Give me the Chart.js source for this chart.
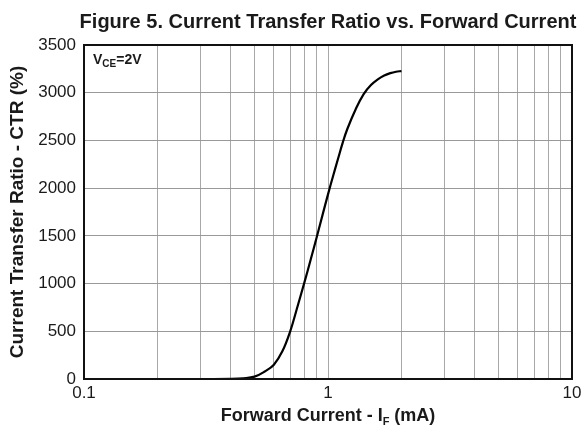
<!DOCTYPE html>
<html>
<head>
<meta charset="utf-8">
<script src="https://cdn.jsdelivr.net/npm/chart.js@4/dist/chart.umd.min.js"></script>
<style>
  html, body { margin: 0; padding: 0; background: #ffffff; }
  #wrap { width: 586px; height: 432px; }
</style>
</head>
<body>
<div id="wrap"><canvas id="ctrChart"></canvas></div>
<script>
// Curve: forward current (mA) vs CTR (%)
const forwardCurrent = [0.18, 0.3, 0.4, 0.45, 0.5, 0.55, 0.6, 0.65, 0.7, 0.75, 0.8, 0.85, 0.9, 0.95, 1.0,
                        1.05, 1.1, 1.15, 1.2, 1.3, 1.4, 1.5, 1.6, 1.7, 1.8, 1.9, 2.0];
const ctrValues = [0, 0, 2, 8, 25, 78, 150, 290, 500, 760, 1010, 1255, 1490, 1720, 1935,
                   2130, 2310, 2480, 2620, 2830, 2985, 3080, 3140, 3180, 3205, 3220, 3227];

// Axis ticks
const xGridValues = [0.1, 0.2, 0.3, 0.4, 0.5, 0.6, 0.7, 0.8, 0.9, 1, 2, 3, 4, 5, 6, 7, 8, 9, 10];
const xTickLabels = { 0.1: '0.1', 1: '1', 10: '10' };
const yTicks = [0, 500, 1000, 1500, 2000, 2500, 3000, 3500];

const chartTitle = 'Figure 5. Current Transfer Ratio vs. Forward Current';
const yTitle = 'Current Transfer Ratio - CTR (%)';

const FONT = '"Liberation Sans", Arial, Helvetica, sans-serif';
const INK = '#1a1a1a';

// Draws the title, the frame and the labels that need subscripts
const textPlugin = {
    id: 'figureText',
    afterDraw(chart) {
        const ctx = chart.ctx;
        const area = chart.chartArea;
        ctx.save();

        // frame round the plot
        ctx.strokeStyle = '#111';
        ctx.lineWidth = 2;
        ctx.strokeRect(area.left, area.top, area.right - area.left, area.bottom - area.top);

        ctx.fillStyle = INK;
        ctx.textBaseline = 'alphabetic';

        // figure title
        ctx.font = 'bold 20px ' + FONT;
        ctx.textAlign = 'center';
        ctx.fillText(chartTitle, 328, 28);

        // text with a subscript, left to right
        const drawParts = (parts, x, y) => {
            let cx = x;
            parts.forEach(p => {
                ctx.font = 'bold ' + p.size + 'px ' + FONT;
                ctx.fillText(p.text, cx, y + (p.dy || 0));
                cx += ctx.measureText(p.text).width;
            });
        };
        const widthOf = (parts) => parts.reduce((w, p) => {
            ctx.font = 'bold ' + p.size + 'px ' + FONT;
            return w + ctx.measureText(p.text).width;
        }, 0);

        ctx.textAlign = 'left';
        const xTitle = [
            { text: 'Forward Current - I', size: 18 },
            { text: 'F', size: 11, dy: 4 },
            { text: ' (mA)', size: 18 }
        ];
        const xCenter = (area.left + area.right) / 2;
        drawParts(xTitle, xCenter - widthOf(xTitle) / 2, 421);

        const vceLabel = [
            { text: 'V', size: 14 },
            { text: 'CE', size: 10, dy: 3 },
            { text: '=2V', size: 14 }
        ];
        drawParts(vceLabel, area.left + 9, 64);

        ctx.restore();
    }
};

const ctx = document.getElementById('ctrChart').getContext('2d');
const ctrChart = new Chart(ctx, {
    type: 'line',
    data: {
        datasets: [{
            label: 'CTR',
            data: forwardCurrent.map((x, i) => ({ x: x, y: ctrValues[i] })),
            borderColor: '#000000',
            borderWidth: 2.2,
            pointRadius: 0,
            fill: false,
            tension: 0.4
        }]
    },
    options: {
        responsive: true,
        maintainAspectRatio: false,
        animation: false,
        layout: {
            padding: { top: 45, right: 14, left: 0, bottom: 0 }
        },
        plugins: {
            legend: { display: false },
            title: { display: false },
            tooltip: { enabled: false }
        },
        scales: {
            x: {
                type: 'logarithmic',
                min: 0.1,
                max: 10,
                afterBuildTicks: (scale) => {
                    scale.ticks = xGridValues.map(v => ({ value: v }));
                },
                afterFit: (scale) => { scale.height = 53; },
                ticks: {
                    autoSkip: false,
                    maxRotation: 0,
                    padding: 4,
                    color: INK,
                    font: { family: FONT, size: 17 },
                    callback: (value) => xTickLabels[value] || ''
                },
                grid: {
                    color: '#a8a8a8',
                    lineWidth: 1,
                    drawTicks: false
                },
                border: { display: false }
            },
            y: {
                type: 'linear',
                min: 0,
                max: 3500,
                afterBuildTicks: (scale) => {
                    scale.ticks = yTicks.map(v => ({ value: v }));
                },
                afterFit: (scale) => { scale.width = 84; },
                ticks: {
                    padding: 8,
                    color: INK,
                    font: { family: FONT, size: 17 },
                    callback: (value) => String(value)
                },
                grid: {
                    color: '#999999',
                    lineWidth: 1,
                    drawTicks: false
                },
                border: { display: false },
                title: {
                    display: true,
                    text: yTitle,
                    color: INK,
                    padding: { top: 6, bottom: 0 },
                    font: { family: FONT, size: 19, weight: 'bold' }
                }
            }
        }
    },
    plugins: [textPlugin]
});
</script>
</body>
</html>
